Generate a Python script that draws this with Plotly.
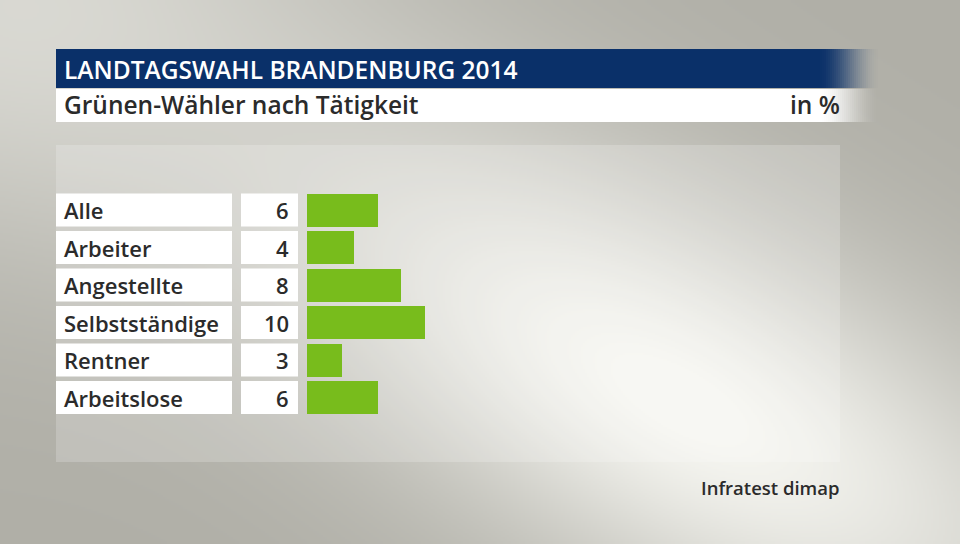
import base64
import struct
import zlib

import numpy as np
import plotly.graph_objects as go

# ---------------- data ----------------
categories = ["Alle", "Arbeiter", "Angestellte", "Selbstständige", "Rentner", "Arbeitslose"]
values = [6, 4, 8, 10, 3, 6]
value_labels = ["6", "4", "8", "10", "3", "6"]
title_text = "LANDTAGSWAHL BRANDENBURG 2014"
subtitle_text = "Grünen-Wähler nach Tätigkeit"
unit_text = "in %"
source_text = "Infratest dimap"

# ---------------- layout constants (pixels) ----------------
W, H = 960, 544
X0PX = 307          # pixel of value 0
PXU = 11.77         # pixels per unit
ROW0 = 210          # centre of first row
ROWSTEP = 37.5
ROWH = 33
FONT = "Open Sans"
TXT = "#2b2b2b"
NAVY = "#0a3069"
GREEN = "#78bc1c"


def px2x(px):
    return (px - X0PX) / PXU


def pxx(px):
    return px / W


def pxy(py):
    return 1 - py / H


# ---------------- background gradient image ----------------
def make_bg(w=480, h=272):
    sx, sy = W / w, H / h
    xs = (np.arange(w) + 0.5) * sx
    ys = (np.arange(h) + 0.5) * sy
    X, Y = np.meshgrid(xs, ys)
    ang = np.arctan2(544, 960)
    c, s = np.cos(ang), np.sin(ang)
    dx, dy = X - 680, Y - 400
    along = dx * c + dy * s
    perp = -dx * s + dy * c
    fa = np.exp(-((along / 470) ** 2 + (perp / 190) ** 2))
    fb = 0.55 * np.exp(-((X / 350) ** 2 + (Y / 250) ** 2))
    f = 1 - (1 - fa) * (1 - fb)
    G = np.array([176, 175, 167], float)
    L = np.array([247, 247, 242], float)
    img = G + (L - G) * f[..., None]
    img = np.clip(img, 0, 255).astype(np.uint8)
    raw = b"".join(b"\x00" + img[r].tobytes() for r in range(h))

    def chunk(t, d):
        return struct.pack(">I", len(d)) + t + d + struct.pack(">I", zlib.crc32(t + d) & 0xFFFFFFFF)

    png = b"\x89PNG\r\n\x1a\n" + chunk(b"IHDR", struct.pack(">IIBBBBB", w, h, 8, 2, 0, 0, 0)) \
        + chunk(b"IDAT", zlib.compress(raw, 9)) + chunk(b"IEND", b"")
    return "data:image/png;base64," + base64.b64encode(png).decode()


n = len(categories)
rows = list(range(n))

fig = go.Figure()
fig.add_trace(go.Bar(
    x=values, y=rows, orientation="h", width=ROWH / ROWSTEP,
    marker=dict(color=GREEN, line=dict(width=0)), hoverinfo="skip",
))

shapes = []
# chart panel
shapes.append(dict(type="rect", xref="paper", yref="paper", x0=pxx(56), x1=pxx(840), y0=pxy(462), y1=pxy(145),
                   fillcolor="rgba(255,255,255,0.2)", line=dict(width=0), layer="below"))


# header band + subtitle band with fade at right
def band(y0, y1, color, solid_end=818, fade_end=880, steps=31):
    out = [dict(type="rect", xref="paper", yref="paper", x0=pxx(56), x1=pxx(solid_end), y0=pxy(y1), y1=pxy(y0),
                fillcolor=color, line=dict(width=0), layer="below")]
    step = (fade_end - solid_end) / steps
    for k in range(steps):
        t = (k + 0.5) / steps
        op = 1 - t * t * (3 - 2 * t)
        out.append(dict(type="rect", xref="paper", yref="paper",
                        x0=pxx(solid_end + k * step), x1=pxx(solid_end + (k + 1) * step),
                        y0=pxy(y1), y1=pxy(y0), fillcolor=color, opacity=op, line=dict(width=0), layer="below"))
    return out


shapes += band(49, 88, NAVY)
shapes += band(89, 122, "#ffffff")

# label and value boxes
for i in rows:
    y0, y1 = i - ROWH / ROWSTEP / 2, i + ROWH / ROWSTEP / 2
    shapes.append(dict(type="rect", xref="x", yref="y", x0=px2x(56), x1=px2x(232), y0=y0, y1=y1,
                       fillcolor="#ffffff", line=dict(width=0), layer="below"))
    shapes.append(dict(type="rect", xref="x", yref="y", x0=px2x(241), x1=px2x(298), y0=y0, y1=y1,
                       fillcolor="#ffffff", line=dict(width=0), layer="below"))

ann = []
ann.append(dict(text=title_text, xref="paper", yref="paper", x=pxx(62), y=pxy(69), xanchor="left", yanchor="middle",
                showarrow=False, font=dict(family=FONT, size=24.5, color="#ffffff", weight=600)))
ann.append(dict(text=subtitle_text, xref="paper", yref="paper", x=pxx(62), y=pxy(105), xanchor="left",
                yanchor="middle", showarrow=False, font=dict(family=FONT, size=24.5, color=TXT, weight=600)))
ann.append(dict(text=unit_text, xref="paper", yref="paper", x=pxx(842), y=pxy(105), xanchor="right",
                yanchor="middle", showarrow=False, font=dict(family=FONT, size=24.5, color=TXT, weight=600)))
for i, (c, v) in enumerate(zip(categories, value_labels)):
    ann.append(dict(text=c, xref="paper", yref="y", x=pxx(62), y=i, xanchor="left", yanchor="middle",
                    showarrow=False, font=dict(family=FONT, size=22, color=TXT, weight=600)))
    ann.append(dict(text=v, xref="paper", yref="y", x=pxx(291), y=i, xanchor="right", yanchor="middle",
                    showarrow=False, font=dict(family=FONT, size=22, color=TXT, weight=600)))
ann.append(dict(text=source_text, xref="paper", yref="paper", x=pxx(842), y=pxy(487), xanchor="right",
                yanchor="middle", showarrow=False, font=dict(family=FONT, size=18.5, color=TXT, weight=600)))

fig.update_layout(
    width=W, height=H, margin=dict(l=0, r=0, t=0, b=0, pad=0),
    paper_bgcolor="#b4b3ab", plot_bgcolor="rgba(0,0,0,0)",
    showlegend=False, bargap=0,
    xaxis=dict(range=[px2x(0), px2x(W)], visible=False, fixedrange=True),
    yaxis=dict(range=[(H - ROW0) / ROWSTEP, -ROW0 / ROWSTEP], visible=False, fixedrange=True),
    shapes=shapes, annotations=ann,
    images=[dict(source=make_bg(), xref="paper", yref="paper", x=0, y=1, sizex=1, sizey=1,
                 sizing="stretch", xanchor="left", yanchor="top", layer="below")],
)

fig.write_html("out.html", config={"displayModeBar": False},
               post_script="document.body.style.margin='0';document.body.style.overflow='hidden';")
